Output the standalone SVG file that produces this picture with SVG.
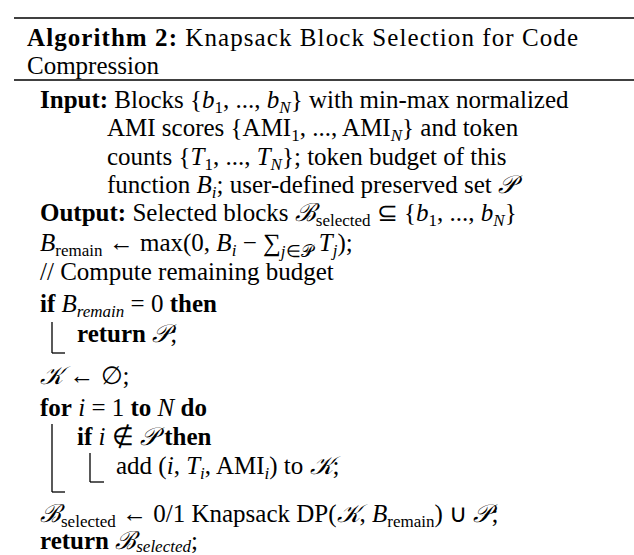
<svg xmlns="http://www.w3.org/2000/svg" width="634" height="555" viewBox="0 0 634 555">
<style>
text{font-family:"Liberation Serif","Times New Roman",serif;font-size:25px;fill:#000}
.b{font-weight:bold}
.i{font-style:italic}
.s{font-size:17px}
line{stroke:#000;stroke-width:1.3}
</style>
<rect width="634" height="555" fill="#fff"/>
<line x1="14" y1="18" x2="634" y2="18" stroke-width="1.6"/>
<line x1="14" y1="80" x2="634" y2="80" stroke-width="1.6"/>
<text x="27" y="46" textLength="551" lengthAdjust="spacing"><tspan class="b">Algorithm 2:</tspan> Knapsack Block Selection for Code</text>
<text x="27" y="74">Compression</text>
<text x="40" y="108"><tspan class="b">Input:</tspan> Blocks {<tspan class="i">b</tspan><tspan class="s" dy="5">1</tspan><tspan dy="-5">, ..., </tspan><tspan class="i">b</tspan><tspan class="s i" dy="5">N</tspan><tspan dy="-5">} with min-max normalized</tspan></text>
<text x="107" y="136">AMI scores {AMI<tspan class="s" dy="5">1</tspan><tspan dy="-5">, ..., AMI</tspan><tspan class="s i" dy="5">N</tspan><tspan dy="-5">} and token</tspan></text>
<text x="107" y="165">counts {<tspan class="i">T</tspan><tspan class="s" dy="5">1</tspan><tspan dy="-5">, ..., </tspan><tspan class="i">T</tspan><tspan class="s i" dy="5">N</tspan><tspan dy="-5">}; token budget of this</tspan></text>
<text x="107" y="193">function <tspan class="i">B</tspan><tspan class="s i" dy="5">i</tspan><tspan dy="-5">; user-defined preserved set </tspan><tspan class="i">𝒫</tspan></text>
<text x="40" y="221"><tspan class="b">Output:</tspan> Selected blocks <tspan class="i">ℬ</tspan><tspan class="s" dy="5">selected</tspan><tspan dy="-5"> ⊆ {</tspan><tspan class="i">b</tspan><tspan class="s" dy="5">1</tspan><tspan dy="-5">, ..., </tspan><tspan class="i">b</tspan><tspan class="s i" dy="5">N</tspan><tspan dy="-5">}</tspan></text>
<text x="40" y="251"><tspan class="i">B</tspan><tspan class="s" dy="5">remain</tspan><tspan dy="-5"> ← max(0, </tspan><tspan class="i">B</tspan><tspan class="s i" dy="5">i</tspan><tspan dy="-5"> − ∑</tspan><tspan class="s i" dy="6">j</tspan><tspan class="s" dy="0">∈𝒫</tspan><tspan class="i" dy="-6"> T</tspan><tspan class="s i" dy="5">j</tspan><tspan dy="-5">);</tspan></text>
<text x="40" y="280">// Compute remaining budget</text>
<text x="40" y="312"><tspan class="b">if</tspan> <tspan class="i">B</tspan><tspan class="s i" dy="5">remain</tspan><tspan dy="-5"> = 0 </tspan><tspan class="b">then</tspan></text>
<text x="77" y="342"><tspan class="b">return</tspan> <tspan class="i">𝒫</tspan>;</text>
<line x1="52" y1="322" x2="52" y2="353"/><line x1="52" y1="353" x2="65" y2="353"/>
<text x="40" y="384"><tspan class="i">𝒦</tspan> ← ∅;</text>
<text x="40" y="416"><tspan class="b">for</tspan> <tspan class="i">i</tspan> = 1 <tspan class="b">to</tspan> <tspan class="i">N</tspan> <tspan class="b">do</tspan></text>
<text x="77" y="445"><tspan class="b">if</tspan> <tspan class="i">i</tspan> ∉ <tspan class="i">𝒫</tspan> <tspan class="b">then</tspan></text>
<text x="116" y="474">add (<tspan class="i">i</tspan>, <tspan class="i">T</tspan><tspan class="s i" dy="5">i</tspan><tspan dy="-5">, AMI</tspan><tspan class="s i" dy="5">i</tspan><tspan dy="-5">) to </tspan><tspan class="i">𝒦</tspan>;</text>
<line x1="90" y1="453" x2="90" y2="482"/><line x1="90" y1="482" x2="104" y2="482"/>
<line x1="52" y1="424" x2="52" y2="492"/><line x1="52" y1="492" x2="65" y2="492"/>
<text x="40" y="522"><tspan class="i">ℬ</tspan><tspan class="s" dy="5">selected</tspan><tspan dy="-5"> ← 0/1 Knapsack DP(</tspan><tspan class="i">𝒦</tspan>, <tspan class="i">B</tspan><tspan class="s" dy="5">remain</tspan><tspan dy="-5">) ∪ </tspan><tspan class="i">𝒫</tspan>;</text>
<text x="40" y="549"><tspan class="b">return</tspan> <tspan class="i">ℬ</tspan><tspan class="s i" dy="3">selected</tspan><tspan dy="-3">;</tspan></text>
</svg>
